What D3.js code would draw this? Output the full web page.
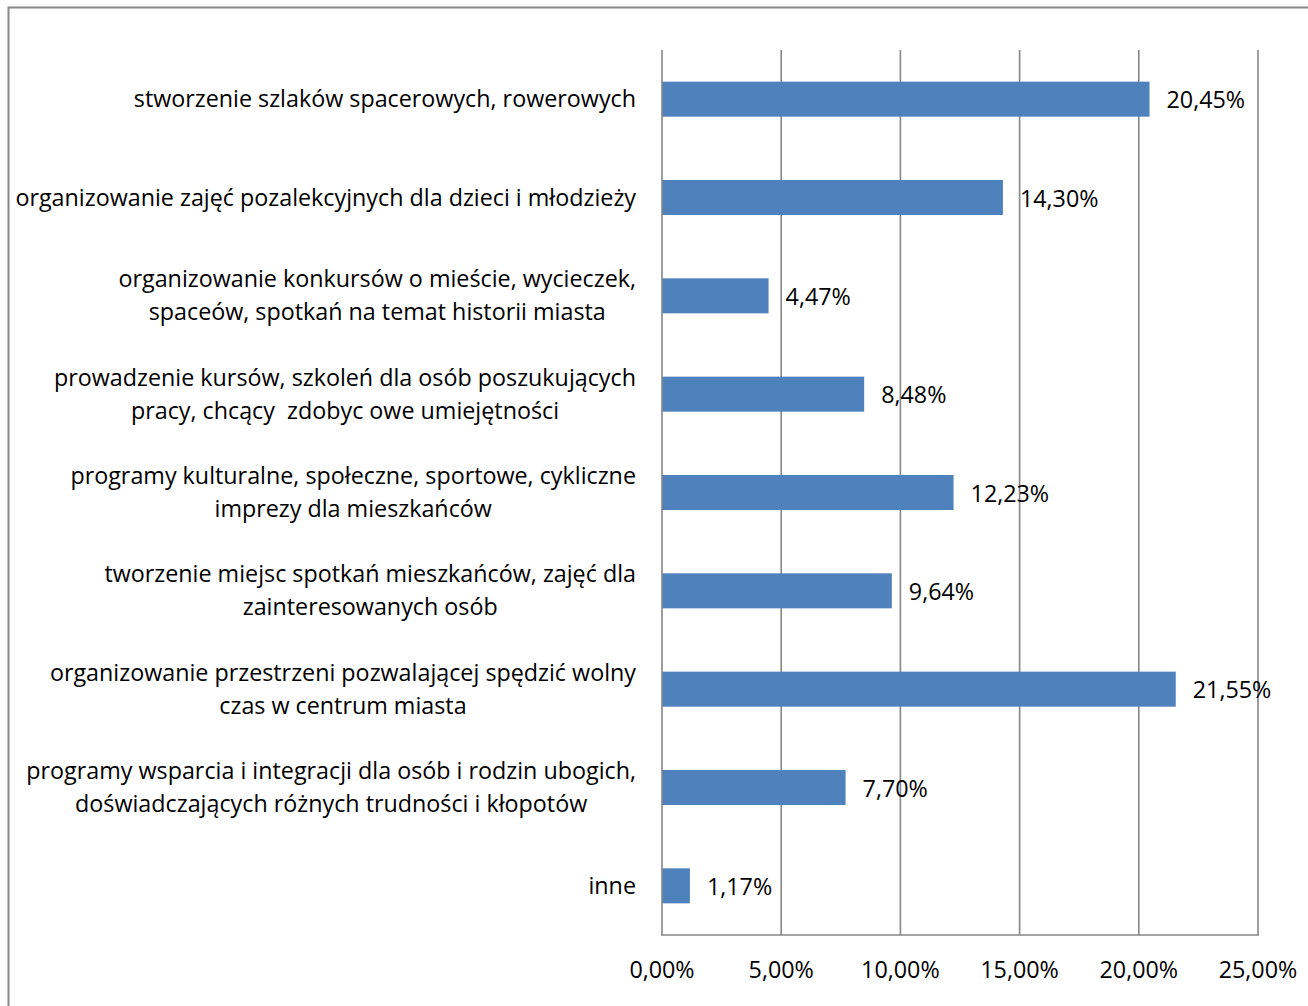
<!DOCTYPE html>
<html>
<head>
<meta charset="utf-8">
<script src="https://cdn.jsdelivr.net/npm/d3@7/dist/d3.min.js"></script>
<style>
  html, body { margin: 0; padding: 0; background: #fff; }
  svg { display: block; }
  text { font-family: "Open Sans", "Noto Sans", sans-serif; fill: #000; white-space: pre; }
</style>
</head>
<body>
<svg id="chart" width="1308" height="1006"></svg>
<script>
// Category labels (each entry is a list of lines)
const categories = [
  ["stworzenie szlaków spacerowych, rowerowych"],
  ["organizowanie zajęć pozalekcyjnych dla dzieci i młodzieży"],
  ["organizowanie konkursów o mieście, wycieczek,", "spaceów, spotkań na temat historii miasta"],
  ["prowadzenie kursów, szkoleń dla osób poszukujących", "pracy, chcący  zdobyc owe umiejętności"],
  ["programy kulturalne, społeczne, sportowe, cykliczne", "imprezy dla mieszkańców"],
  ["tworzenie miejsc spotkań mieszkańców, zajęć dla", "zainteresowanych osób"],
  ["organizowanie przestrzeni pozwalającej spędzić wolny", "czas w centrum miasta"],
  ["programy wsparcia i integracji dla osób i rodzin ubogich,", "doświadczających różnych trudności i kłopotów"],
  ["inne"]
];
// Share of answers, in percent
const values = [20.45, 14.30, 4.47, 8.48, 12.23, 9.64, 21.55, 7.70, 1.17];
// Value axis ticks, in percent
const ticks = [0, 5, 10, 15, 20, 25];

const fmt = v => v.toFixed(2).replace(".", ",") + "%";

const svg = d3.select("#chart");
const fontSize = 23.3;

// outer chart frame
svg.append("rect")
  .attr("x", 8.5).attr("y", 7.5)
  .attr("width", 1400).attr("height", 1100)
  .attr("fill", "none").attr("stroke", "#878787").attr("stroke-width", 2);

const x = d3.scaleLinear().domain([0, 25]).range([662, 1258]);
const idx = d3.range(categories.length);
const y = d3.scaleBand().domain(idx).range([50, 935]).paddingInner(0.644).paddingOuter(0.322);

// vertical gridlines
svg.append("g").selectAll("line").data(ticks.slice(1)).join("line")
  .attr("x1", d => x(d)).attr("x2", d => x(d))
  .attr("y1", 50).attr("y2", 935)
  .attr("stroke", "#868686").attr("stroke-width", 1.6);

// bars
svg.append("g").selectAll("rect").data(idx).join("rect")
  .attr("x", x(0))
  .attr("y", i => y(i))
  .attr("width", i => x(values[i]) - x(0))
  .attr("height", y.bandwidth())
  .attr("fill", "#4F81BD");

// axis lines
svg.append("line").attr("x1", x(0)).attr("x2", x(0)).attr("y1", 50).attr("y2", 935)
  .attr("stroke", "#868686").attr("stroke-width", 1.6);
svg.append("line").attr("x1", x(0) - 1).attr("x2", x(25) + 1).attr("y1", 935).attr("y2", 935)
  .attr("stroke", "#868686").attr("stroke-width", 1.6);

// tick labels
svg.append("g").selectAll("text").data(ticks).join("text")
  .attr("x", d => x(d)).attr("y", 969)
  .attr("text-anchor", "middle").attr("dominant-baseline", "central")
  .attr("font-size", fontSize)
  .text(d => fmt(d));

// value labels
svg.append("g").selectAll("text").data(idx).join("text")
  .attr("x", i => x(values[i]) + 17)
  .attr("y", i => y(i) + y.bandwidth() / 2)
  .attr("dominant-baseline", "central")
  .attr("font-size", fontSize)
  .text(i => fmt(values[i]));

// category labels: block right-aligned to the axis, lines centred within the block
const lineH = 33;
const labelRight = 636;
const lg = svg.append("g");
idx.forEach(i => {
  const lines = categories[i];
  const cy = y(i) + y.bandwidth() / 2;
  const g = lg.append("g");
  const texts = lines.map((ln, k) => g.append("text")
    .attr("y", cy + (k - (lines.length - 1) / 2) * lineH - 1)
    .attr("dominant-baseline", "central")
    .attr("font-size", fontSize)
    .text(ln));
  const widths = texts.map(t => t.node().getComputedTextLength());
  const w = d3.max(widths);
  const cx = labelRight - w / 2;
  texts.forEach(t => t.attr("x", cx).attr("text-anchor", "middle"));
});
</script>
</body>
</html>
